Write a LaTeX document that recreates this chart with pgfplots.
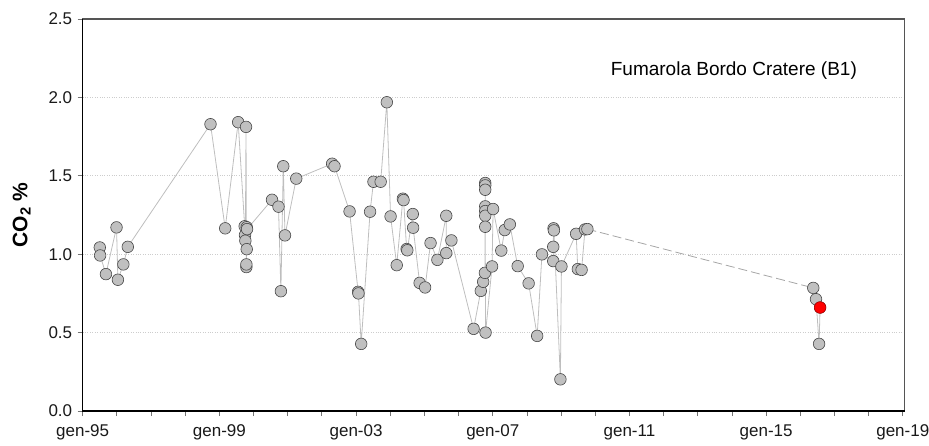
\documentclass[border=0pt]{standalone}
\usepackage{fontspec}
\setmainfont{Liberation Sans}
\usepackage{pgfplots}
\pgfplotsset{compat=1.18}
\definecolor{mkfill}{RGB}{192,192,192}
\definecolor{mkdraw}{RGB}{70,70,70}
\definecolor{lnc}{RGB}{190,190,190}
\definecolor{boxc}{RGB}{85,85,85}
\definecolor{gridc}{RGB}{205,205,205}
\begin{document}
\begin{tikzpicture}
\useasboundingbox (-82.7pt,-34.3pt) rectangle (846.3pt,411pt);
\begin{axis}[
  scale only axis, width=821.8pt, height=392pt,
  xmin=1995, xmax=2019.05, ymin=0, ymax=2.5,
  axis line style={draw=boxc, line width=1.2pt},
  xtick={1995,1999,2003,2007,2011,2015,2019},
  xticklabels={gen-95,gen-99,gen-03,gen-07,gen-11,gen-15,gen-19},
  minor xtick={1996,1997,1998,2000,2001,2002,2004,2005,2006,2008,2009,2010,2012,2013,2014,2016,2017,2018},
  ytick={0,0.5,1,1.5,2,2.5},
  xtick pos=bottom, ytick pos=left,
  tick align=outside,
  major tick length=5pt, minor tick length=5pt,
  tick style={color=black!55, line width=0.8pt},
  ymajorgrids,
  grid style={color=gridc, dotted, line width=0.7pt},
  /pgf/number format/assume math mode=true,
  yticklabel style={/pgf/number format/fixed, /pgf/number format/fixed zerofill, /pgf/number format/precision=1},
  ticklabel style={font=\fontsize{17}{20}\selectfont, text=black!90},
  xticklabel style={yshift=-5pt},
  yticklabel style={xshift=-2pt},
  clip=false,
]
\addplot[color=lnc, line width=0.8pt, mark=*, mark size=5.8pt,
  mark options={fill=mkfill, draw=mkdraw, line width=0.6pt, solid}] coordinates {
(1995.50,1.043) (1995.51,0.992) (1995.68,0.873) (1995.99,1.171) (1996.03,0.837)
(1996.19,0.935) (1996.32,1.047) (1998.74,1.829) (1999.17,1.165) (1999.55,1.842)
(1999.74,1.178) (1999.75,1.122) (1999.76,1.086) (1999.78,1.812) (1999.79,0.918)
(1999.79,0.935) (1999.80,1.032) (1999.80,1.172) (1999.81,1.160)
(2000.54,1.347) (2000.73,1.303) (2000.80,0.764) (2000.87,1.561) (2000.92,1.120)
(2001.25,1.482) (2002.30,1.577) (2002.37,1.561) (2002.81,1.273) (2003.06,0.760)
(2003.07,0.750) (2003.15,0.428) (2003.41,1.271) (2003.51,1.462) (2003.72,1.462)
(2003.90,1.969) (2004.01,1.241) (2004.19,0.930) (2004.37,1.354) (2004.39,1.345)
(2004.48,1.033) (2004.50,1.025) (2004.66,1.256) (2004.67,1.169) (2004.86,0.817)
(2005.02,0.788) (2005.18,1.071) (2005.38,0.964) (2005.64,1.245) (2005.64,1.007)
(2005.79,1.088) (2006.44,0.524) (2006.65,0.766) (2006.72,0.824) (2006.77,0.881)
(2006.78,1.454) (2006.78,1.439) (2006.78,1.411) (2006.78,1.305) (2006.78,1.275)
(2006.78,1.245) (2006.78,1.175) (2006.79,0.500) (2006.98,0.922) (2007.01,1.288)
(2007.25,1.023) (2007.35,1.154) (2007.50,1.190) (2007.73,0.924) (2008.05,0.814)
(2008.30,0.479) (2008.44,0.999) (2008.77,0.956) (2008.77,1.047) (2008.78,1.165)
(2008.79,1.152) (2008.98,0.202) (2009.01,0.922) (2009.44,1.130) (2009.49,0.905)
(2009.60,0.900) (2009.70,1.158) (2009.77,1.160)
};
\addplot[color=black!35, line width=0.8pt, dash pattern=on 9pt off 4pt, no marks] coordinates {
(2009.77,1.160) (2016.38,0.785)
};
\addplot[color=lnc, line width=0.8pt, mark=*, mark size=5.8pt,
  mark options={fill=mkfill, draw=mkdraw, line width=0.6pt, solid}] coordinates {
(2016.38,0.785) (2016.46,0.713) (2016.55,0.428) (2016.58,0.660)
};
\addplot[only marks, mark=*, mark size=5.8pt,
  mark options={fill=red, draw=red!70!black, line width=0.6pt}] coordinates {
(2016.58,0.660)
};
\node[anchor=west, font=\fontsize{19}{22}\selectfont, inner sep=0pt] at (axis cs:2010.45,2.169) {Fumarola Bordo Cratere (B1)};
\node[rotate=90, font=\bfseries\fontsize{21}{24}\selectfont, inner sep=0pt] at ([xshift=-61pt]rel axis cs:0,0.5) {CO\textsubscript{2} \%};
\draw[black, line width=1.3pt] (rel axis cs:0,1) -- (rel axis cs:0,0) -- (rel axis cs:1,0);
\end{axis}
\end{tikzpicture}
\end{document}
